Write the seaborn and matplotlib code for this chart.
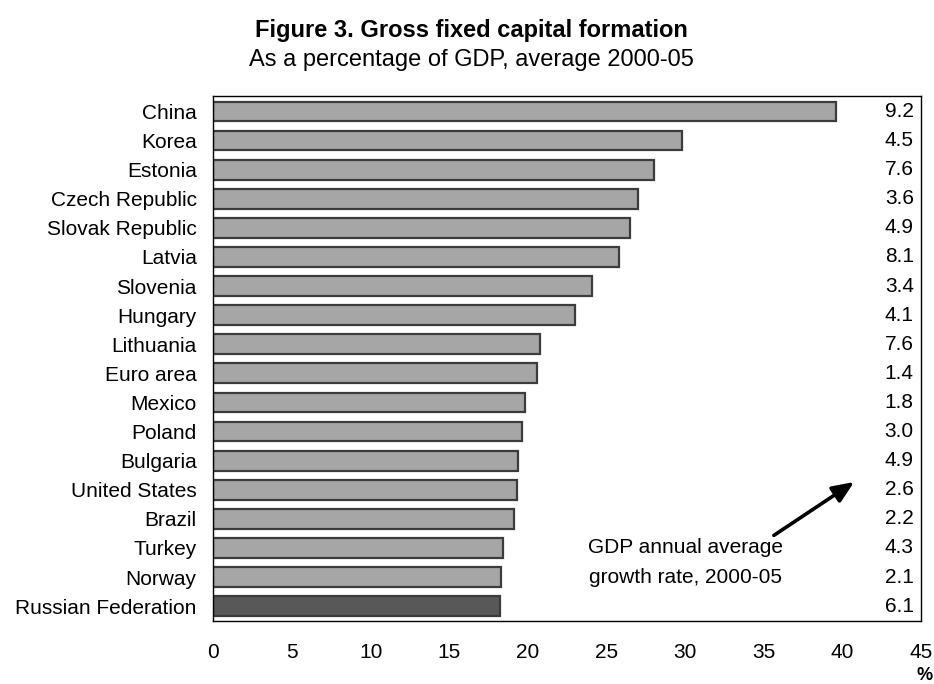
import matplotlib
matplotlib.use("Agg")
import matplotlib.pyplot as plt
import seaborn as sns
import pandas as pd

# Data
countries = ["China", "Korea", "Estonia", "Czech Republic", "Slovak Republic", "Latvia",
             "Slovenia", "Hungary", "Lithuania", "Euro area", "Mexico", "Poland",
             "Bulgaria", "United States", "Brazil", "Turkey", "Norway", "Russian Federation"]
gfcf_share = [39.6, 29.8, 28.0, 27.0, 26.5, 25.8, 24.1, 23.0, 20.8, 20.6, 19.8, 19.6,
              19.4, 19.3, 19.1, 18.4, 18.3, 18.2]
gdp_growth = ["9.2", "4.5", "7.6", "3.6", "4.9", "8.1", "3.4", "4.1", "7.6", "1.4",
              "1.8", "3.0", "4.9", "2.6", "2.2", "4.3", "2.1", "6.1"]
x_ticks = [0, 5, 10, 15, 20, 25, 30, 35, 40, 45]

df = pd.DataFrame({"country": countries, "gfcf": gfcf_share})

sns.set_style("white")
plt.rcParams["font.family"] = ["Liberation Sans", "DejaVu Sans"]
plt.rcParams["text.color"] = "black"
plt.rcParams["xtick.color"] = "black"
plt.rcParams["ytick.color"] = "black"
plt.rcParams["xtick.labelcolor"] = "black"
plt.rcParams["ytick.labelcolor"] = "black"

bar_colors = ["#a6a6a6"] * (len(countries) - 1) + ["#585858"]

fig = plt.figure(figsize=(9.34, 6.84), dpi=100)
ax = fig.add_axes([0.2284, 0.0925, 0.986 - 0.2284, 0.8596 - 0.0925])

sns.barplot(data=df, x="gfcf", y="country", hue="country", palette=bar_colors,
            legend=False, orient="h", width=0.68, edgecolor="#3c3c3c",
            linewidth=1.6, saturation=1, ax=ax)

ax.set_xlim(0, 45)
ax.set_ylim(17.5, -0.53)
ax.set_xticks(x_ticks)
ax.set_xlabel("")
ax.set_ylabel("")
ax.tick_params(axis="x", direction="in", length=5, width=1, color="black",
               labelsize=15, pad=16, top=False)
ax.tick_params(axis="y", length=0, labelsize=15, pad=12)
for side in ["top", "right", "bottom", "left"]:
    ax.spines[side].set_visible(True)
    ax.spines[side].set_color("black")
    ax.spines[side].set_linewidth(1.0)

# GDP growth column
for i, g in enumerate(gdp_growth):
    ax.text(44.55, i, g, ha="right", va="center", fontsize=15)

# annotation
ax.text(30.0, 15.0, "GDP annual average", ha="center", va="center", fontsize=15)
ax.text(30.0, 16.0, "growth rate, 2000-05", ha="center", va="center", fontsize=15)
ax.annotate("", xy=(40.9, 12.68), xytext=(35.5, 14.62),
            arrowprops=dict(arrowstyle="-|>,head_length=1.3,head_width=0.55",
                            color="black", lw=2.6))

fig.text(471.5 / 934, 1 - 30 / 684, "Figure 3. Gross fixed capital formation",
         ha="center", va="center", fontsize=17, fontweight="bold")
fig.text(471.5 / 934, 1 - 60 / 684, "As a percentage of GDP, average 2000-05",
         ha="center", va="center", fontsize=17)
fig.text(925 / 934, 1 - 667 / 684, "%", ha="center", va="top", fontsize=13,
         fontweight="bold")

fig.savefig("out.png", dpi=100)
